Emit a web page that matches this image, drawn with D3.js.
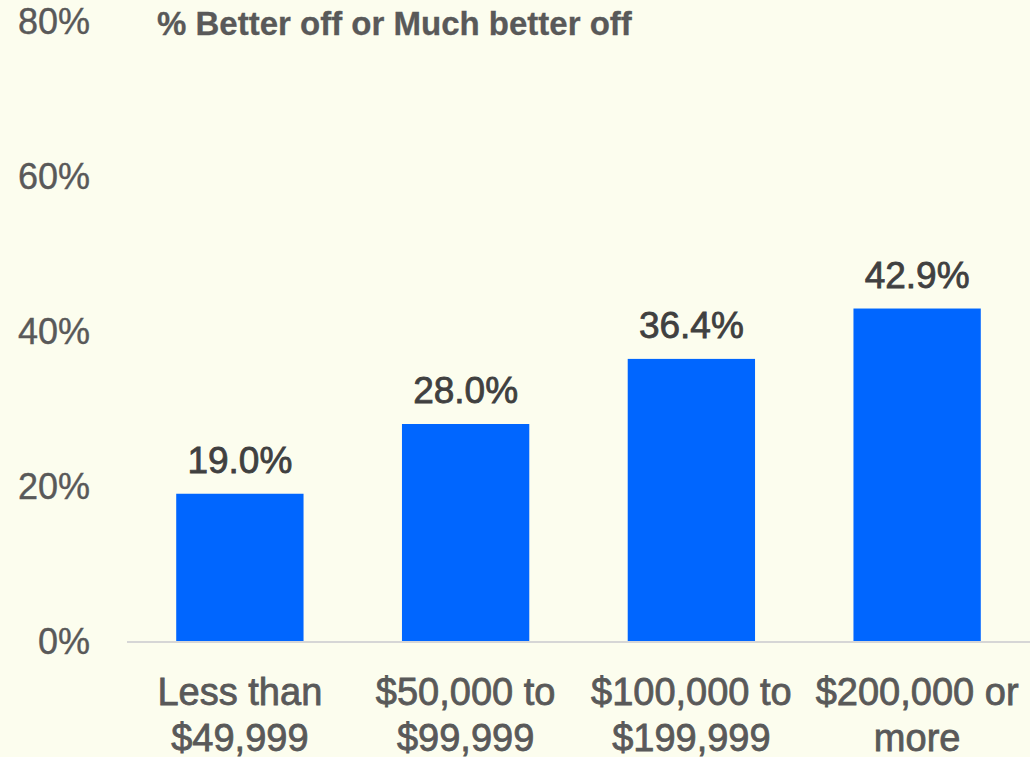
<!DOCTYPE html>
<html>
<head>
<meta charset="utf-8">
<script src="https://cdn.jsdelivr.net/npm/d3@7"></script>
<style>
  html, body { margin: 0; padding: 0; background: #fcfdee; }
  svg { display: block; font-family: "Liberation Sans", Arial, sans-serif; }
</style>
</head>
<body>
<script>
// Data
const categories = [
  ["Less than", "$49,999"],
  ["$50,000 to", "$99,999"],
  ["$100,000 to", "$199,999"],
  ["$200,000 or", "more"]
];
const values = [19.0, 28.0, 36.4, 42.9];
const yTicks = [0, 20, 40, 60, 80];
const title = "% Better off or Much better off";

// Layout
const width = 1030;
const height = 757;
const left = 127;
const baseY = 641;
const topY = 21;

const svg = d3.select("body")
  .append("svg")
  .attr("width", width)
  .attr("height", height);

svg.append("rect")
  .attr("width", width)
  .attr("height", height)
  .attr("fill", "#fcfdee");

// Scales
const xScale = d3.scaleBand()
  .domain(d3.range(categories.length))
  .range([left, width])
  .paddingInner(0.436)
  .paddingOuter(0.218);

const yScale = d3.scaleLinear()
  .domain([0, 80])
  .range([baseY, topY]);

// Y axis labels
const leftAxis = d3.axisLeft(yScale)
  .tickValues(yTicks)
  .tickFormat(d => d + "%")
  .tickSize(0)
  .tickPadding(0);

const yAxis = svg.append("g")
  .attr("transform", "translate(90,0)")
  .call(leftAxis);
yAxis.select(".domain").remove();
yAxis.selectAll("text")
  .attr("font-size", 36)
  .attr("font-family", "Liberation Sans, Arial, sans-serif")
  .attr("fill", "#595959")
  .attr("stroke", "#595959")
  .attr("stroke-width", 0.4)
  .attr("dy", "0.34em");

// Bars
svg.selectAll("rect.bar")
  .data(values)
  .join("rect")
  .attr("class", "bar")
  .attr("x", (d, i) => xScale(i))
  .attr("y", d => yScale(d))
  .attr("width", xScale.bandwidth())
  .attr("height", d => baseY - yScale(d))
  .attr("fill", "#0066ff");

// Baseline
svg.append("line")
  .attr("x1", left)
  .attr("x2", width)
  .attr("y1", baseY + 1)
  .attr("y2", baseY + 1)
  .attr("stroke", "#d6d6d6")
  .attr("stroke-width", 2);

// Value labels
svg.selectAll("text.value")
  .data(values)
  .join("text")
  .attr("class", "value")
  .attr("x", (d, i) => xScale(i) + xScale.bandwidth() / 2)
  .attr("y", d => yScale(d) - 21)
  .attr("text-anchor", "middle")
  .attr("font-size", 37)
  .attr("fill", "#404040")
  .attr("stroke", "#404040")
  .attr("stroke-width", 0.8)
  .text(d => d.toFixed(1) + "%");

// Category labels
const bottomAxis = d3.axisBottom(xScale)
  .tickSize(0)
  .tickFormat("");

const xAxis = svg.append("g")
  .attr("transform", "translate(0," + baseY + ")")
  .call(bottomAxis);
xAxis.select(".domain").remove();
xAxis.selectAll(".tick").each(function(d) {
  const t = d3.select(this).append("text")
    .attr("text-anchor", "middle")
    .attr("font-size", 38)
    .attr("font-family", "Liberation Sans, Arial, sans-serif")
    .attr("fill", "#595959")
    .attr("stroke", "#595959")
    .attr("stroke-width", 0.8);
  categories[d].forEach((line, j) => {
    t.append("tspan")
      .attr("x", 0)
      .attr("y", 64 + j * 46)
      .text(line);
  });
});

// Title
svg.append("text")
  .attr("x", 157)
  .attr("y", 35)
  .attr("font-size", 33)
  .attr("font-weight", "bold")
  .attr("fill", "#595959")
  .attr("stroke", "#595959")
  .attr("stroke-width", 0.3)
  .text(title);
</script>
</body>
</html>
